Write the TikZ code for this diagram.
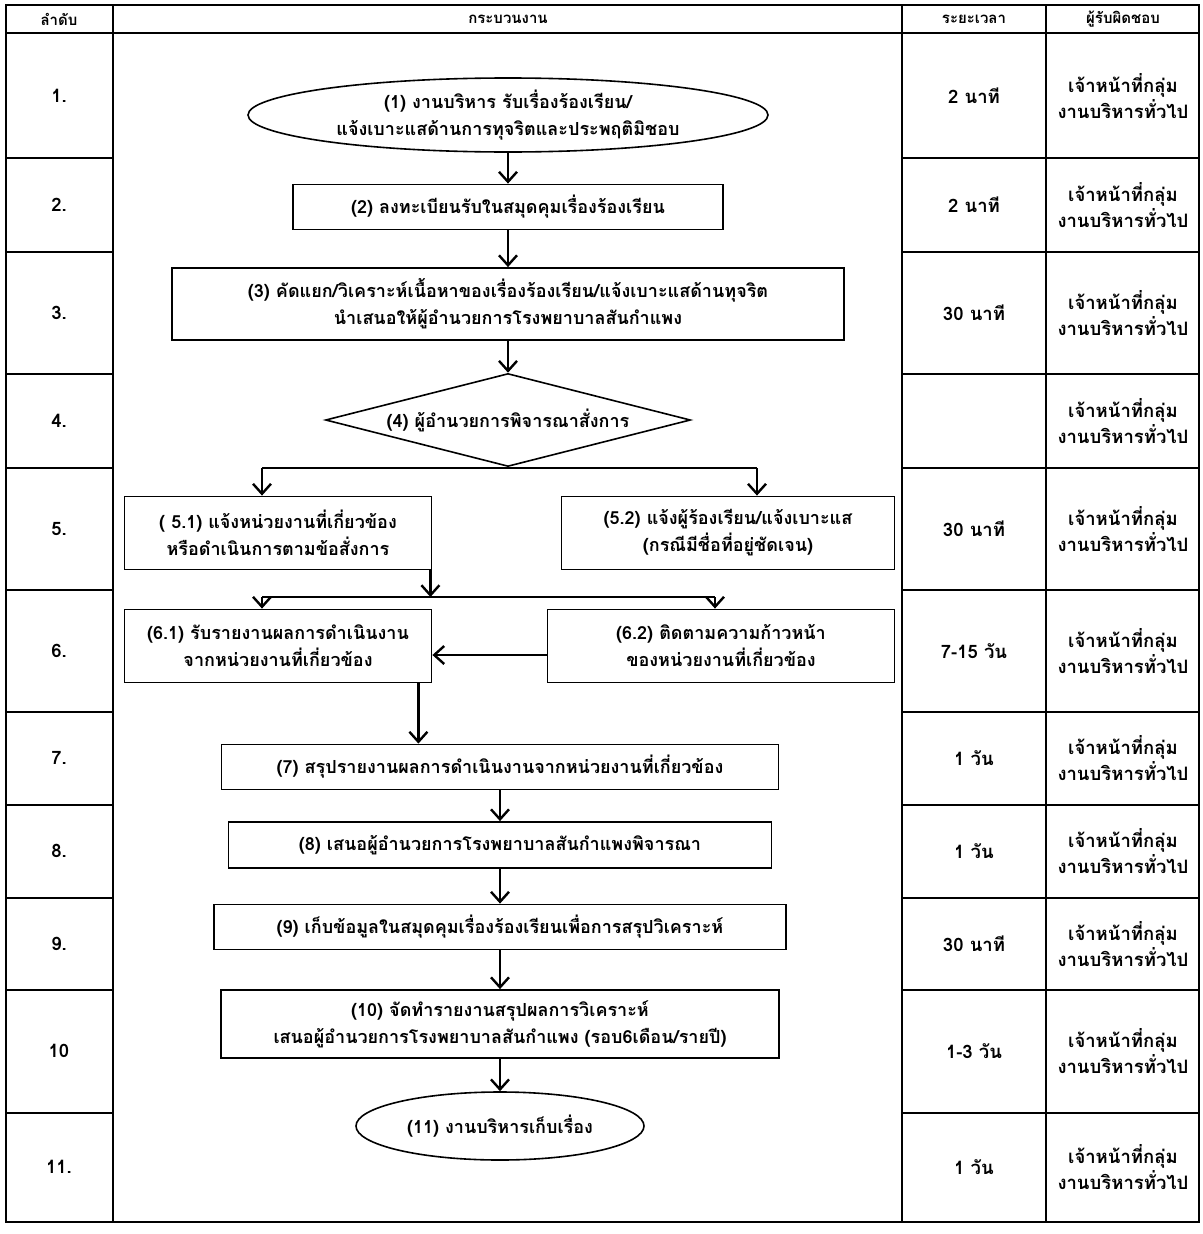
\documentclass[tikz,border=0pt]{standalone}
\usepackage{fontspec}
\newfontfamily\thaifont[Script=Thai]{Loma}
\newcommand{\flowfont}{\thaifont\bfseries\fontsize{18}{27}\selectfont}
\newcommand{\cellfont}{\thaifont\bfseries\fontsize{18.5}{26}\selectfont}
\newcommand{\headfont}{\thaifont\bfseries\fontsize{15}{20}\selectfont}
\usetikzlibrary{
  arrows.meta,
  shapes.geometric,
  chains,
  scopes
}

\begin{document}
\begin{tikzpicture}[
      x=1pt,y=-1pt,
      process/.style={
         rectangle,
         line width=1.8pt,
         draw=black,
         fill=white,
         align=center,
         inner sep=0pt,
         font=\flowfont
      },
      terminal/.style={
         ellipse,
         line width=1.6pt,
         draw=black,
         align=center,
         inner sep=0pt,
         font=\flowfont
      },
      decision/.style={
         diamond,
         aspect=3.9,
         line width=1.6pt,
         draw=black,
         inner sep=0pt,
         font=\flowfont
      },
      cell/.style={align=center,inner sep=0pt,font=\cellfont},
      head/.style={inner sep=0pt,font=\headfont},
      grid/.style={line width=1.8pt},
      >={Straight Barb[length=10pt,width=18pt]},line width=2.4pt,
      tip/.style={->,shorten >=0.007pt},
      every join/.style={line width=2.4pt},
    ]
    \useasboundingbox (0,0) rectangle (1202,1234);
    % table
    \draw[grid] (6,5) rectangle (1199,1222);
    \draw[grid] (113,5) -- (113,1222);
    \draw[grid] (902,5) -- (902,1222);
    \draw[grid] (1046,5) -- (1046,1222);
    \draw[grid] (6,33) -- (1199,33);
    \draw[grid] (6,158) -- (113,158) (902,158) -- (1199,158);
    \draw[grid] (6,252) -- (113,252) (902,252) -- (1199,252);
    \draw[grid] (6,374) -- (113,374) (902,374) -- (1199,374);
    \draw[grid] (6,468) -- (113,468) (902,468) -- (1199,468);
    \draw[grid] (6,590) -- (113,590) (902,590) -- (1199,590);
    \draw[grid] (6,712) -- (113,712) (902,712) -- (1199,712);
    \draw[grid] (6,805) -- (113,805) (902,805) -- (1199,805);
    \draw[grid] (6,898) -- (113,898) (902,898) -- (1199,898);
    \draw[grid] (6,990) -- (113,990) (902,990) -- (1199,990);
    \draw[grid] (6,1113) -- (113,1113) (902,1113) -- (1199,1113);

    % header
    \node (h1) [head] at (59,19) {ลำดับ};
    \node (h2) [head] at (508,19) {กระบวนงาน};
    \node (h3) [head] at (974,19) {ระยะเวลา};
    \node (h4) [head] at (1123,19) {ผู้รับผิดชอบ};

    % order column
    \node (r1) [cell] at (59,96) {1.};
    \node (r2) [cell] at (59,205) {2.};
    \node (r3) [cell] at (59,313) {3.};
    \node (r4) [cell] at (59,421) {4.};
    \node (r5) [cell] at (59,529) {5.};
    \node (r6) [cell] at (59,651) {6.};
    \node (r7) [cell] at (59,758) {7.};
    \node (r8) [cell] at (59,851) {8.};
    \node (r9) [cell] at (59,944) {9.};
    \node (r10) [cell] at (59,1051) {10};
    \node (r11) [cell] at (59,1167) {11.};

    % time column
    \node (t1) [cell] at (974,96) {2 นาที};
    \node (t2) [cell] at (974,205) {2 นาที};
    \node (t3) [cell] at (974,313) {30 นาที};
    \node (t5) [cell] at (974,529) {30 นาที};
    \node (t6) [cell] at (974,651) {7-15 วัน};
    \node (t7) [cell] at (974,758) {1 วัน};
    \node (t8) [cell] at (974,851) {1 วัน};
    \node (t9) [cell] at (974,944) {30 นาที};
    \node (t10) [cell] at (974,1051) {1-3 วัน};
    \node (t11) [cell] at (974,1167) {1 วัน};

    % responsible column
    \node (p1) [cell] at (1123,96) {เจ้าหน้าที่กลุ่ม\\งานบริหารทั่วไป};
    \node (p2) [cell] at (1123,205) {เจ้าหน้าที่กลุ่ม\\งานบริหารทั่วไป};
    \node (p3) [cell] at (1123,313) {เจ้าหน้าที่กลุ่ม\\งานบริหารทั่วไป};
    \node (p4) [cell] at (1123,421) {เจ้าหน้าที่กลุ่ม\\งานบริหารทั่วไป};
    \node (p5) [cell] at (1123,529) {เจ้าหน้าที่กลุ่ม\\งานบริหารทั่วไป};
    \node (p6) [cell] at (1123,651) {เจ้าหน้าที่กลุ่ม\\งานบริหารทั่วไป};
    \node (p7) [cell] at (1123,758) {เจ้าหน้าที่กลุ่ม\\งานบริหารทั่วไป};
    \node (p8) [cell] at (1123,851) {เจ้าหน้าที่กลุ่ม\\งานบริหารทั่วไป};
    \node (p9) [cell] at (1123,944) {เจ้าหน้าที่กลุ่ม\\งานบริหารทั่วไป};
    \node (p10) [cell] at (1123,1051) {เจ้าหน้าที่กลุ่ม\\งานบริหารทั่วไป};
    \node (p11) [cell] at (1123,1167) {เจ้าหน้าที่กลุ่ม\\งานบริหารทั่วไป};

    % flow
    \node (n1) [terminal, minimum width=520pt, minimum height=74pt] at (508,115)
       {(1) งานบริหาร รับเรื่องร้องเรียน/\\แจ้งเบาะแสด้านการทุจริตและประพฤติมิชอบ};
    \node (n2) [process, minimum width=430pt, minimum height=45pt] at (508,207)
       {(2) ลงทะเบียนรับในสมุดคุมเรื่องร้องเรียน};
    \node (n3) [process, minimum width=672pt, minimum height=72pt] at (508,304)
       {(3) คัดแยก/วิเคราะห์เนื้อหาของเรื่องร้องเรียน/แจ้งเบาะแสด้านทุจริต\\นำเสนอให้ผู้อำนวยการโรงพยาบาลสันกำแพง};
    \node (n4) [decision, minimum width=365pt, minimum height=93pt] at (508,420)
       {(4) ผู้อำนวยการพิจารณาสั่งการ};
    \node (n51) [process, minimum width=307pt, minimum height=73pt] at (278,533)
       {( 5.1) แจ้งหน่วยงานที่เกี่ยวข้อง\\หรือดำเนินการตามข้อสั่งการ};
    \node (n52) [process, minimum width=333pt, minimum height=73pt] at (728,533)
       {(5.2) แจ้งผู้ร้องเรียน/แจ้งเบาะแส\\(กรณีมีชื่อที่อยู่ชัดเจน)};
    \node (n61) [process, minimum width=307pt, minimum height=73pt] at (278,646)
       {(6.1) รับรายงานผลการดำเนินงาน\\จากหน่วยงานที่เกี่ยวข้อง};
    \node (n62) [process, minimum width=347pt, minimum height=73pt] at (721,646)
       {(6.2) ติดตามความก้าวหน้า\\ของหน่วยงานที่เกี่ยวข้อง};
    \node (n7) [process, minimum width=557pt, minimum height=45pt] at (500,767)
       {(7) สรุปรายงานผลการดำเนินงานจากหน่วยงานที่เกี่ยวข้อง};
    \node (n8) [process, minimum width=543pt, minimum height=46pt] at (500,845)
       {(8) เสนอผู้อำนวยการโรงพยาบาลสันกำแพงพิจารณา};
    \node (n9) [process, minimum width=572pt, minimum height=45pt] at (500,927)
       {(9) เก็บข้อมูลในสมุดคุมเรื่องร้องเรียนเพื่อการสรุปวิเคราะห์};
    \node (n10) [process, minimum width=558pt, minimum height=68pt] at (500,1024)
       {(10) จัดทำรายงานสรุปผลการวิเคราะห์\\เสนอผู้อำนวยการโรงพยาบาลสันกำแพง (รอบ6เดือน/รายปี)};
    \node (n11) [terminal, minimum width=288pt, minimum height=68pt] at (500,1126)
       {(11) งานบริหารเก็บเรื่อง};

    \coordinate (b51) at (262,468);
    \coordinate (b52) at (757,468);
    \coordinate (b61) at (262,597);
    \coordinate (b62) at (715,597);

  { [start chain]
       \chainin (n1);
       \chainin (n2)    [join=by tip];
       \chainin (n3)    [join=by tip];
       \chainin (n4)    [join=by tip];
  }
    \draw (b51) -- (b52);
    \draw[tip] (b51) -- (b51 |- n51.north);
    \draw[tip] (b52) -- (b52 |- n52.north);
    \draw[tip] ([xshift=-2pt]n51.south east) -- ([xshift=-2pt]n51.south east |- b61);
    \draw (b61) -- (b62);
    \draw[tip] (b61) -- (b61 |- n61.north);
    \draw[tip] (b62) -- (b62 |- n62.north);
    \draw[tip] ([yshift=-9pt]n62.west) -- ([yshift=-9pt]n61.east);
    \draw[tip] ([xshift=-14pt]n61.south east) -- ([xshift=-14pt]n61.south east |- n7.north);
  { [start chain]
       \chainin (n7);
       \chainin (n8)    [join=by tip];
       \chainin (n9)    [join=by tip];
       \chainin (n10)   [join=by tip];
       \chainin (n11)   [join=by tip];
  }
\end{tikzpicture}
\end{document}
